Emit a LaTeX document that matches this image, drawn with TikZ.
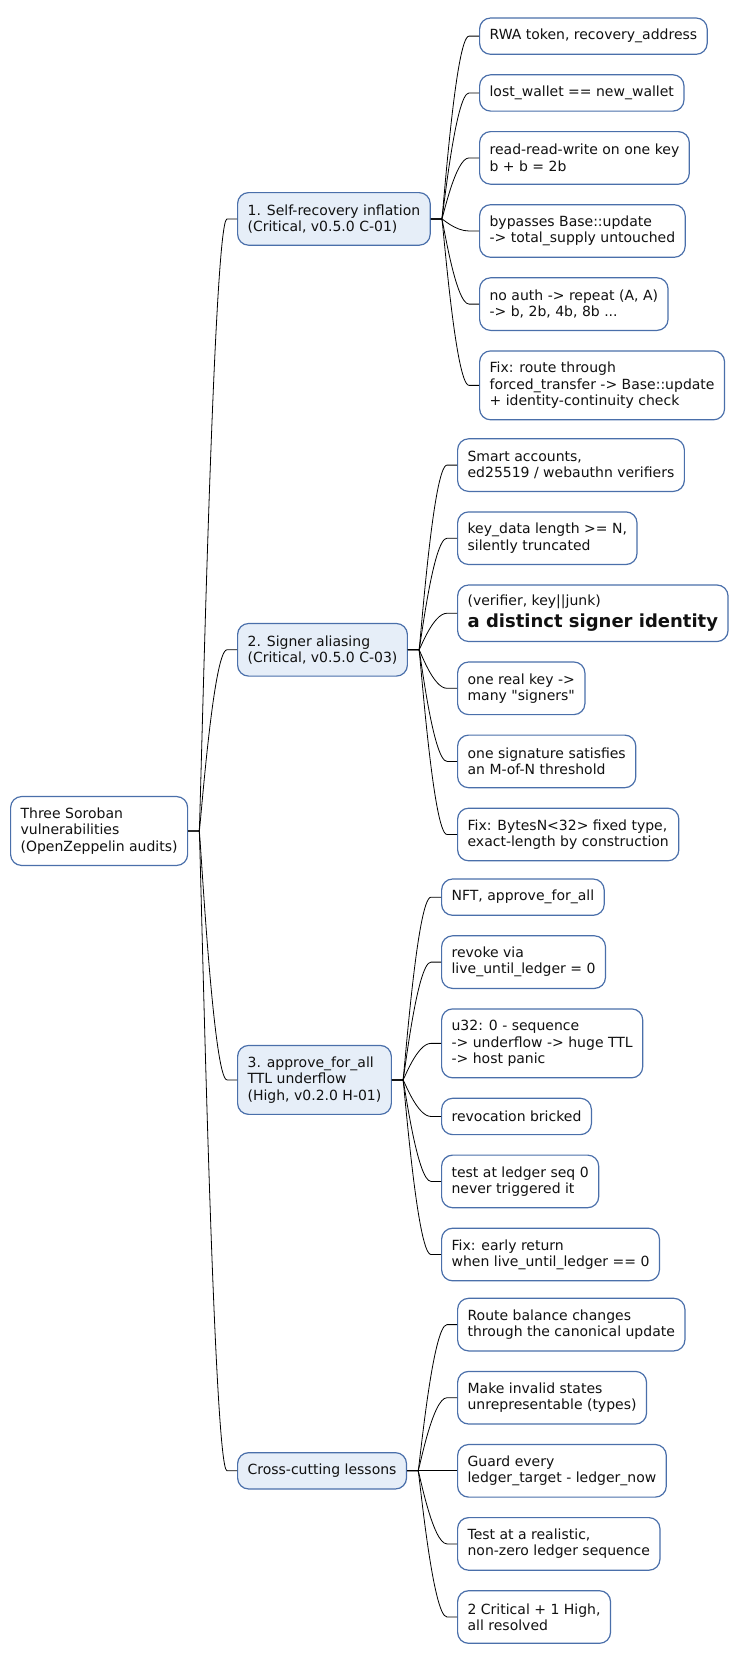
\documentclass[tikz,border=0pt]{standalone}
\usepackage{fontspec}
\setmainfont{DejaVu Sans}
\newfontfamily\dvfont{DejaVu Sans}
\usetikzlibrary{calc}
\definecolor{bordercol}{HTML}{4A6FAA}
\definecolor{lonefill}{HTML}{E6EEF8}
\definecolor{txtcol}{HTML}{111111}
\tikzset{
  mmbox/.style={draw=bordercol, line width=1.2pt, rounded corners=11pt, anchor=west,
    align=left, inner xsep=10pt, inner ysep=0pt, text=txtcol,
    font=\dvfont\fontsize{14}{16.3}\selectfont},
  rootbox/.style={mmbox, fill=white, minimum height=68.9pt},
  lone/.style={mmbox, fill=lonefill},
  leaf/.style={mmbox, fill=white},
  h1/.style={minimum height=36.3pt},
  h2/.style={minimum height=52.6pt},
  h3/.style={minimum height=68.9pt},
  conn/.style={draw=black, line width=0.8pt},
}
\newcommand\mmlink[2]{%
  \draw[conn] let \p1=(#1.east), \p2=(#2.west) in
    (\p1) -- (\x1+11pt,\y1) .. controls (\x1+12pt,\y1) and ({(\x1+11pt+\x2-10pt)/2},\y2) .. (\x2-10pt,\y2) -- (\p2);}
\begin{document}
\begin{tikzpicture}[x=1pt,y=1pt]
\useasboundingbox (0,0) rectangle (738,-1662);

\node[rootbox] (R) at (10,-831) {Three Soroban\\vulnerabilities\\(OpenZeppelin audits)};

\node[lone,h2] (A) at (237,-218.9) {1. Self-recovery inflation\\(Critical, v0.5.0 C-01)};
\node[lone,h2] (B) at (237,-649.8) {2. Signer aliasing\\(Critical, v0.5.0 C-03)};
\node[lone,h3] (C) at (237,-1079.9) {3. approve\_for\_all\\TTL underflow\\(High, v0.2.0 H-01)};
\node[lone,h1] (D) at (237,-1470.8) {Cross-cutting lessons};

\node[leaf,h1] (a1) at (479,-36.15) {RWA token, recovery\_address};
\node[leaf,h1] (a2) at (479,-92.95) {lost\_wallet == new\_wallet};
\node[leaf,h2] (a3) at (479,-157.9) {read-read-write on one key\\b + b = 2b};
\node[leaf,h2] (a4) at (479,-231) {bypasses Base::update\\-> total\_supply untouched};
\node[leaf,h2] (a5) at (479,-304.1) {no auth -> repeat (A, A)\\-> b, 2b, 4b, 8b ...};
\node[leaf,h3] (a6) at (479,-385.35) {Fix: route through\\forced\_transfer -> Base::update\\+ identity-continuity check};

\node[leaf,h2] (b1) at (457,-465.1) {Smart accounts,\\ed25519 / webauthn verifiers};
\node[leaf,h2] (b2) at (457,-538.2) {key\_data length >= N,\\silently truncated};
\node[leaf,minimum height=56.5pt] (b3) at (457,-613.25) {(verifier, key||junk)\\[4.5pt]{\fontsize{18}{21}\selectfont\bfseries a distinct signer identity}};
\node[leaf,h2] (b4) at (457,-688.3) {one real key ->\\many "signers"};
\node[leaf,h2] (b5) at (457,-761.4) {one signature satisfies\\an M-of-N threshold};
\node[leaf,h2] (b6) at (457,-834.5) {Fix: BytesN<32> fixed type,\\exact-length by construction};

\node[leaf,h1] (c1) at (441,-897.15) {NFT, approve\_for\_all};
\node[leaf,h2] (c2) at (441,-962.1) {revoke via\\live\_until\_ledger = 0};
\node[leaf,h3] (c3) at (441,-1043.35) {u32: 0 - sequence\\-> underflow -> huge TTL\\-> host panic};
\node[leaf,h1] (c4) at (441,-1116.45) {revocation bricked};
\node[leaf,h2] (c5) at (441,-1181.4) {test at ledger seq 0\\never triggered it};
\node[leaf,h2] (c6) at (441,-1254.5) {Fix: early return\\when live\_until\_ledger == 0};

\node[leaf,h2] (d1) at (457,-1324.6) {Route balance changes\\through the canonical update};
\node[leaf,h2] (d2) at (457,-1397.7) {Make invalid states\\unrepresentable (types)};
\node[leaf,h2] (d3) at (457,-1470.8) {Guard every\\ledger\_target - ledger\_now};
\node[leaf,h2] (d4) at (457,-1543.9) {Test at a realistic,\\non-zero ledger sequence};
\node[leaf,h2] (d5) at (457,-1617) {2 Critical + 1 High,\\all resolved};

\foreach \c in {A,B,C,D} {\mmlink{R}{\c}}
\foreach \c in {a1,a2,a3,a4,a5,a6} {\mmlink{A}{\c}}
\foreach \c in {b1,b2,b3,b4,b5,b6} {\mmlink{B}{\c}}
\foreach \c in {c1,c2,c3,c4,c5,c6} {\mmlink{C}{\c}}
\foreach \c in {d1,d2,d3,d4,d5} {\mmlink{D}{\c}}
\end{tikzpicture}
\end{document}
